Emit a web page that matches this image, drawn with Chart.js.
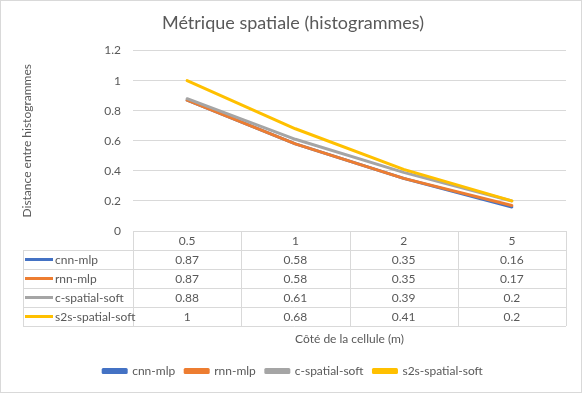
<!DOCTYPE html>
<html>
<head>
<meta charset="utf-8">
<script src="https://cdn.jsdelivr.net/npm/chart.js@4.4.1/dist/chart.umd.min.js"></script>
<style>
  html, body { margin: 0; padding: 0; background: #fff; }
</style>
</head>
<body>
<canvas id="myChart" width="582" height="393"></canvas>
<script>
// chart data
const cell_sizes = ['0.5', '1', '2', '5'];
const series_names = ['cnn-mlp', 'rnn-mlp', 'c-spatial-soft', 's2s-spatial-soft'];
const cnn_mlp = [0.87, 0.58, 0.35, 0.16];
const rnn_mlp = [0.87, 0.58, 0.35, 0.17];
const c_spatial_soft = [0.88, 0.61, 0.39, 0.2];
const s2s_spatial_soft = [1, 0.68, 0.41, 0.2];
const y_ticks = [0, 0.2, 0.4, 0.6, 0.8, 1, 1.2];

const series_values = [cnn_mlp, rnn_mlp, c_spatial_soft, s2s_spatial_soft];
const series_colors = ['#4472C4', '#ED7D31', '#A5A5A5', '#FFC000'];
const text_color = '#595959';
const line_color = '#D9D9D9';
const font_family = 'Lato, "Liberation Sans", sans-serif';

// white background + outer border
const frame = {
  id: 'frame',
  beforeDraw(chart) {
    const ctx = chart.ctx;
    ctx.save();
    ctx.fillStyle = '#fff';
    ctx.fillRect(0, 0, chart.width, chart.height);
    ctx.strokeStyle = line_color;
    ctx.lineWidth = 1;
    ctx.strokeRect(0.5, 0.5, chart.width - 1, chart.height - 1);
    ctx.restore();
  }
};

// data table under the plot area
const dataTable = {
  id: 'dataTable',
  afterDraw(chart) {
    const ctx = chart.ctx;
    const area = chart.chartArea;
    const x = chart.scales.x;
    const n = cell_sizes.length;
    const colW = (area.right - area.left) / n;
    const top = Math.round(area.bottom);
    const headH = 19, rowH = 19;
    const labelLeft = 23;
    const sets = chart.data.datasets;
    const bottom = top + headH + rowH * sets.length;
    const px = v => Math.round(v) + 0.5;

    ctx.save();
    ctx.strokeStyle = line_color;
    ctx.lineWidth = 1;
    ctx.beginPath();
    ctx.moveTo(area.left, px(top));
    ctx.lineTo(area.right, px(top));
    for (let r = 0; r <= sets.length; r++) {
      const y = px(top + headH + r * rowH);
      ctx.moveTo(labelLeft, y);
      ctx.lineTo(area.right, y);
    }
    ctx.moveTo(px(labelLeft), top + headH);
    ctx.lineTo(px(labelLeft), bottom);
    for (let k = 0; k <= n; k++) {
      const xx = px(area.left + k * colW);
      ctx.moveTo(xx, top);
      ctx.lineTo(xx, bottom);
    }
    ctx.stroke();

    ctx.font = '12px ' + font_family;
    ctx.fillStyle = text_color;
    ctx.textAlign = 'center';
    ctx.textBaseline = 'middle';
    cell_sizes.forEach((c, i) => {
      ctx.fillText(c, x.getPixelForValue(i), top + headH / 2 + 1);
    });
    sets.forEach((ds, r) => {
      const cy = top + headH + r * rowH + rowH / 2 + 1;
      ds.data.forEach((v, i) => {
        ctx.fillStyle = text_color;
        ctx.textAlign = 'center';
        ctx.fillText(String(v), x.getPixelForValue(i), cy);
      });
      ctx.fillStyle = ds.borderColor;
      ctx.fillRect(25, Math.round(cy - 2.5), 28, 3);
      ctx.fillStyle = text_color;
      ctx.textAlign = 'left';
      ctx.fillText(ds.label, 55, cy);
    });
    ctx.restore();
  }
};

const datasets = series_names.map((name, i) => ({
  label: name,
  data: series_values[i],
  borderColor: series_colors[i],
  backgroundColor: series_colors[i],
  borderWidth: 3,
  borderCapStyle: 'round',
  borderJoinStyle: 'round',
  pointRadius: 0,
  pointHoverRadius: 0,
  tension: 0,
  fill: false,
  order: series_names.length - i
}));

var myChart = document.getElementById('myChart').getContext('2d');
var chart = new Chart(myChart, {
  type: 'line',
  data: { labels: cell_sizes, datasets: datasets },
  plugins: [frame, dataTable],
  options: {
    responsive: false,
    animation: false,
    devicePixelRatio: 1,
    layout: { padding: { left: 20, right: 16, top: 8, bottom: 6 } },
    plugins: {
      title: {
        display: true,
        text: 'Métrique spatiale (histogrammes)',
        color: text_color,
        font: { family: font_family, size: 18, weight: 'normal' },
        padding: { top: 4, bottom: 17 }
      },
      legend: {
        position: 'bottom',
        labels: {
          color: text_color,
          font: { family: font_family, size: 12 },
          boxWidth: 23,
          boxHeight: 3,
          padding: 10,
          sort: (a, b) => a.datasetIndex - b.datasetIndex
        }
      },
      tooltip: { enabled: false }
    },
    scales: {
      x: {
        offset: true,
        grid: { display: false },
        border: { display: false },
        ticks: { display: false },
        title: {
          display: true,
          text: 'Côté de la cellule (m)',
          color: text_color,
          font: { family: font_family, size: 12 },
          padding: { top: 0, bottom: 9 }
        },
        afterFit: s => { s.height = 124; }
      },
      y: {
        min: 0,
        max: 1.2,
        afterBuildTicks: s => { s.ticks = y_ticks.map(v => ({ value: v })); },
        grid: { color: line_color, drawTicks: false },
        border: { display: false },
        ticks: {
          color: text_color,
          font: { family: font_family, size: 12 },
          padding: 12,
          callback: v => String(Number(v.toFixed(1)))
        },
        title: {
          display: true,
          text: 'Distance entre histogrammes',
          color: text_color,
          font: { family: font_family, size: 12 },
          padding: 0
        },
        afterFit: s => { s.width = 113; }
      }
    }
  }
});
</script>
</body>
</html>
